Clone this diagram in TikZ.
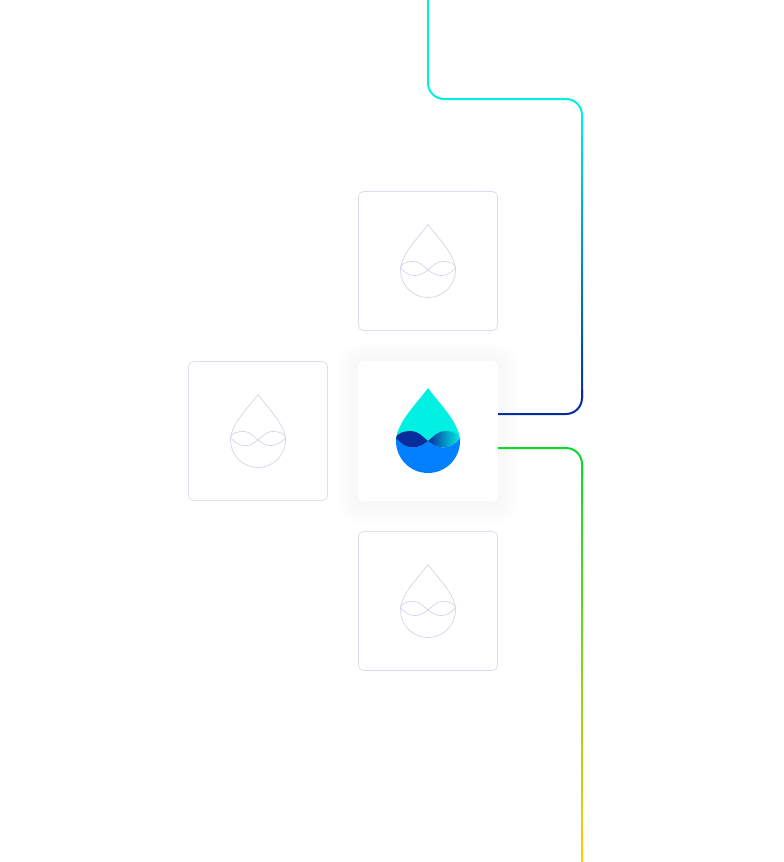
\documentclass[tikz,border=0pt]{standalone}
\usepackage{tikz}

\definecolor{framegray}{HTML}{DDE0EC}
\definecolor{dropgray}{HTML}{CDD1E2}
\definecolor{linecyan}{HTML}{00F0E4}
\definecolor{linenavy}{HTML}{0A2D9E}
\definecolor{linegreen}{HTML}{0CD92F}
\definecolor{lineyellow}{HTML}{FFCC08}
\definecolor{dropblue}{HTML}{0080FF}

\newcommand{\dropOutline}{(0,-53) .. controls (-10,-39) and (-32,-18) .. (-32,0) arc (180:0:32) .. controls (32,-18) and (10,-39) .. (0,-53) -- cycle}
\newcommand{\dropTop}{(0,-53) .. controls (-10,-39) and (-32,-18) .. (-32,0) -- (32,0) .. controls (32,-18) and (10,-39) .. (0,-53) -- cycle}
\newcommand{\waterBody}{(-32,-3) -- (-32,0) arc (180:0:32) -- (32,-3) .. controls (27,3) and (22,6.5) .. (15,6.5) .. controls (9,6.5) and (4,3) .. (0,0) .. controls (-4,3) and (-9,6.5) .. (-15,6.5) .. controls (-22,6.5) and (-27,3) .. (-32,-3) -- cycle}
\newcommand{\lobeLeft}{(0,0) .. controls (-6,-5) and (-10,-10) .. (-17,-10) .. controls (-25,-10) and (-32,-7) .. (-32,-3) .. controls (-27,3) and (-22,6.5) .. (-15,6.5) .. controls (-9,6.5) and (-4,3) .. (0,0) -- cycle}
\newcommand{\lobeRight}{(0,0) .. controls (6,-5) and (10,-10) .. (17,-10) .. controls (25,-10) and (32,-7) .. (32,-3) .. controls (27,3) and (22,6.5) .. (15,6.5) .. controls (9,6.5) and (4,3) .. (0,0) -- cycle}

\tikzset{
	card/.style={shape=rectangle,draw=framegray,line width=0.8pt,rounded corners=5pt,minimum size=139pt,inner sep=0pt,fill=white},
	wire/.style={line width=2pt,rounded corners=16pt},
	ghost/.pic={
		\draw[dropgray,line width=0.6pt,scale=0.86] \dropOutline;
		\draw[dropgray,line width=0.6pt,scale=0.86] \lobeLeft;
		\draw[dropgray,line width=0.6pt,scale=0.86] \lobeRight;
	}
}

\begin{document}
\begin{tikzpicture}[x=1pt,y=-1pt]

	\useasboundingbox (0,0) rectangle (784,862);

	% soft shadow under the middle card
	\foreach \s in {1,4,...,22}
		\fill[black,opacity=0.004,rounded corners=\s*1pt+6pt] (358-\s,361-\s+2) rectangle (498+\s,501+\s+2);

	\node[card] (top) at (428,261) {};
	\node[card] (side) at (258,431) {};
	\node[card] (bottom) at (428,601) {};
	\node[shape=rectangle,fill=white,rounded corners=6pt,minimum size=140pt,inner sep=0pt] (mid) at (428,431) {};

	\coordinate (inlet) at (428,0);
	\coordinate (bendA) at (582,99);
	\coordinate (bendB) at (582,414);
	\coordinate (midA) at (498,414);
	\coordinate (midB) at (498,448);
	\coordinate (bendC) at (582,448);
	\coordinate (outlet) at (582,862);

	\draw[wire,linecyan] (inlet) -- (428,99) -- (bendA) -- (582,125);
	\shade[top color=linecyan,bottom color=linenavy] (581,115) rectangle (583,398);
	\draw[wire,linenavy] (582,390) -- (bendB) -- (midA);
	\draw[wire,linegreen] (midB) -- (bendC) -- (582,475);
	\shade[top color=linegreen,bottom color=lineyellow] (581,464) rectangle (583,862);

	\pic at (428,270) {ghost};
	\pic at (258,440) {ghost};
	\pic at (428,610) {ghost};

	% coloured drop
	\begin{scope}[shift={(428,441)}]
		\fill[linecyan] \dropTop;
		\fill[dropblue] \waterBody;
		\fill[linenavy] \lobeLeft;
		\shade[left color=linenavy,right color=linecyan] \lobeRight;
	\end{scope}

\end{tikzpicture}
\end{document}
